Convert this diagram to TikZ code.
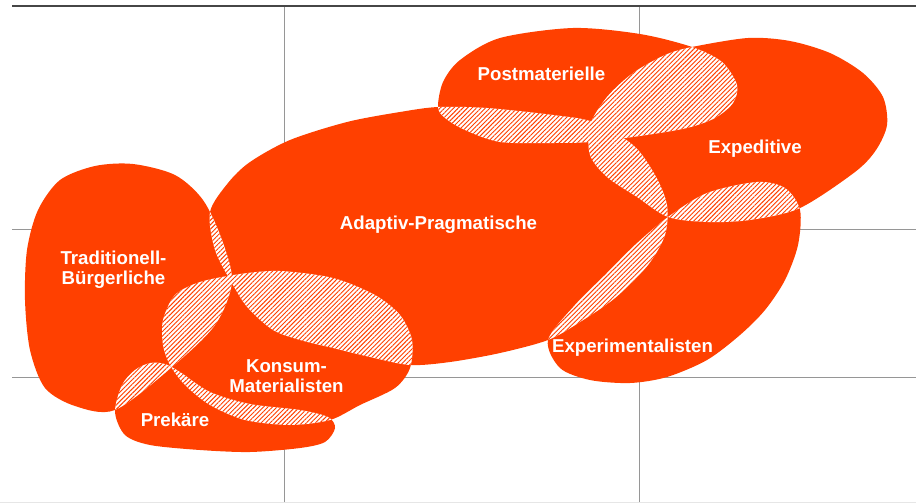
\documentclass[tikz,border=0pt]{standalone}
\usepackage{fontspec}
\setmainfont{Liberation Sans}
\usetikzlibrary{patterns.meta}
\definecolor{sinusorange}{RGB}{255,64,0}

\tikzset{
  tb path/.style={insert path={plot[smooth cycle] coordinates {(133,164) (175,175) (203,200) (222,240) (232,282) (215,325) (172,367) (115,410) (75,406) (45,388) (30,350) (25,300) (27,250) (38,210) (60,180) (95,166)}}},
  ap path/.style={insert path={plot[smooth cycle] coordinates {(210,212) (228,183) (250,162) (290,140) (347,122) (400,112) (438,107) (487,108) (553,115) (593,122) (633,145) (655,175) (667,205) (665,235) (648,265) (615,298) (580,322) (548,340) (500,353) (450,362) (410,365) (370,357) (333,348) (300,340) (273,330) (248,308) (233,285) (215,250)}}},
  pm path/.style={insert path={plot[smooth cycle] coordinates {(438,107) (443,82) (460,60) (500,38) (573,28) (640,34) (692,47) (722,62) (737,85) (733,103) (715,118) (687,128) (640,136) (590,142) (553,143) (500,142) (465,130) (445,118)}}},
  ex path/.style={insert path={plot[smooth cycle] coordinates {(692,47) (748,38) (790,41) (830,53) (863,73) (883,97) (887,125) (876,150) (855,172) (800,208) (750,220) (707,222) (668,217) (637,197) (607,177) (590,155) (590,125) (607,97) (633,73) (665,55)}}},
  exp path/.style={insert path={plot[smooth cycle] coordinates {(548,340) (575,305) (605,275) (635,245) (668,217) (707,193) (757,182) (785,188) (800,210) (798,245) (785,280) (765,310) (740,335) (707,360) (667,377) (630,383) (590,380) (560,368)}}},
  km path/.style={insert path={plot[smooth cycle] coordinates {(163,320) (175,295) (200,282) (240,274) (280,271) (333,278) (375,295) (400,315) (412,340) (410,368) (395,388) (360,405) (330,420) (290,425) (245,420) (210,405) (185,385) (170,365) (163,345)}}},
  pr path/.style={insert path={plot[smooth cycle] coordinates {(115,412) (122,385) (135,370) (150,363) (165,364) (180,372) (210,392) (250,404) (300,410) (328,417) (335,428) (325,442) (300,448) (250,452) (200,450) (150,445) (125,435)}}}
}

\begin{document}
\begin{tikzpicture}[x=0.75pt,y=0.75pt,yscale=-1,xscale=1,
  grid line/.style={color={rgb,255:red,150;green,150;blue,150},line width=0.75},
  milieu/.style={fill=sinusorange,draw=none},
  overlap/.style={fill=white,postaction={pattern={Lines[angle=45,distance=2.4pt,line width=0.7pt]},pattern color=sinusorange}},
  milieu label/.style={anchor=base,text=white,font=\bfseries\fontsize{14}{15}\selectfont,align=center,inner sep=0.75pt}]
\useasboundingbox (0,0) rectangle (916,503);

%Straight Lines: grid
\draw [grid line] (12,229) -- (916,229) ;
\draw [grid line] (12,377) -- (916,377) ;
\draw [grid line] (284,6) -- (284,503) ;
\draw [grid line] (639,6) -- (639,503) ;
\draw [color={rgb,255:red,230;green,230;blue,230},line width=0.75] (0,502) -- (916,502) ;
\draw [color={rgb,255:red,70;green,70;blue,70},line width=1.5] (12,6) -- (916,6) ;

%Shapes: milieus
\fill [milieu, tb path] ;
\fill [milieu, ap path] ;
\fill [milieu, pm path] ;
\fill [milieu, ex path] ;
\fill [milieu, exp path] ;
\fill [milieu, km path] ;
\fill [milieu, pr path] ;

%Shapes: overlaps
\begin{scope} \clip [tb path] ; \fill [overlap, ap path] ; \end{scope}
\begin{scope} \clip [tb path] ; \fill [overlap, km path] ; \end{scope}
\begin{scope} \clip [tb path] ; \fill [overlap, pr path] ; \end{scope}
\begin{scope} \clip [ap path] ; \fill [overlap, km path] ; \end{scope}
\begin{scope} \clip [km path] ; \fill [overlap, pr path] ; \end{scope}
\begin{scope} \clip [ap path] ; \fill [overlap, pm path] ; \end{scope}
\begin{scope} \clip [ap path] ; \fill [overlap, ex path] ; \end{scope}
\begin{scope} \clip [pm path] ; \fill [overlap, ex path] ; \end{scope}
\begin{scope} \clip [ap path] ; \fill [overlap, exp path] ; \end{scope}
\begin{scope} \clip [ex path] ; \fill [overlap, exp path] ; \end{scope}

% Text Node
\draw (541.5,80) node [milieu label] (postmat) {Postmaterielle};
% Text Node
\draw (755,153) node [milieu label] (expedit) {Expeditive};
% Text Node
\draw (438.5,229) node [milieu label] (adaptiv) {Adaptiv-Pragmatische};
% Text Node
\draw (113.5,284) node [milieu label] (tradbuerg) {Traditionell-\\Bürgerliche};
% Text Node
\draw (286.5,392) node [milieu label] (konsum) {Konsum-\\Materialisten};
% Text Node
\draw (175,426) node [milieu label] (prekaer) {Prekäre};
% Text Node
\draw (632.5,352) node [milieu label] (experim) {Experimentalisten};

\end{tikzpicture}
\end{document}
